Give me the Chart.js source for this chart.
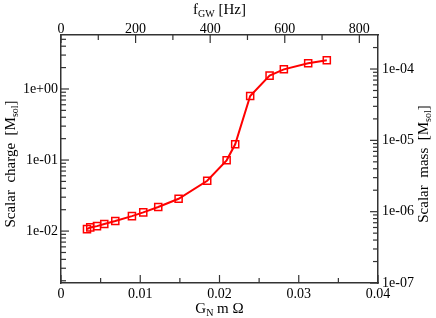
<!DOCTYPE html>
<html>
<head>
<meta charset="utf-8">
<script src="https://cdn.jsdelivr.net/npm/chart.js@4"></script>
<style>
  html, body { margin: 0; padding: 0; background: #fff; }
  #wrap { width: 436px; height: 318px; }
</style>
</head>
<body>
<div id="wrap"><canvas id="chart" width="436" height="318"></canvas></div>
<script>
// G_N m Omega (bottom axis) and scalar charge in M_sol (left axis)
const gnmOmega = [0.00328, 0.00369, 0.00454, 0.00546, 0.00685, 0.00895, 0.01038, 0.01227,
  0.01484, 0.01845, 0.02090, 0.02198, 0.02387, 0.02632, 0.02812, 0.03119, 0.03354];
const scalarCharge = [0.01067, 0.01127, 0.01175, 0.01255, 0.01384, 0.01626, 0.01834, 0.0218,
  0.0285, 0.0511, 0.0991, 0.1664, 0.797, 1.54, 1.89, 2.30, 2.54];

// axis ranges
const xRange = [0, 0.04];
const freqRange = [0, 850];           // f_GW [Hz], top axis
const chargeRange = [1.86e-3, 5.75];  // left axis
const massRange = [1e-7, 3.0e-4];     // right axis

// tick values
const xMajor = [0, 0.01, 0.02, 0.03, 0.04];
const xMinor = [0.005, 0.015, 0.025, 0.035];
const freqMajor = [0, 200, 400, 600, 800];
const freqMinor = [100, 300, 500, 700];
const chargeDecades = [1e-2, 1e-1, 1];
const massDecades = [1e-7, 1e-6, 1e-5, 1e-4];

const FONT = "'Liberation Serif', 'Times New Roman', serif";
const RED = 'rgb(255, 0, 0)';
const INK = '#333';

function expLabel(v) {
  const e = Math.round(Math.log10(v));
  return '1e' + (e < 0 ? '-' : '+') + String(Math.abs(e)).padStart(2, '0');
}

function fixSize(prop, px) {
  return scale => { scale[prop] = px; };
}

function logMinors(min, max) {
  const out = [];
  for (let e = Math.floor(Math.log10(min)); e <= Math.ceil(Math.log10(max)); e++) {
    for (let k = 2; k <= 9; k++) {
      const v = k * Math.pow(10, e);
      if (v > min && v < max) out.push(v);
    }
  }
  return out;
}

// text with subscripts, parts = [[text, isSub], ...]
function drawRich(ctx, parts, x, y, angle) {
  const big = '15px ' + FONT, small = '10px ' + FONT;
  let w = 0;
  parts.forEach(p => { ctx.font = p[1] ? small : big; w += ctx.measureText(p[0]).width; });
  ctx.save();
  ctx.translate(x, y);
  ctx.rotate(angle || 0);
  ctx.fillStyle = '#000';
  ctx.textBaseline = 'alphabetic';
  ctx.textAlign = 'left';
  let cx = -w / 2;
  parts.forEach(p => {
    ctx.font = p[1] ? small : big;
    ctx.fillText(p[0], cx, p[1] ? 8 : 5);
    cx += ctx.measureText(p[0]).width;
  });
  ctx.restore();
}

// inward tick marks (major + minor) and the axis titles
const frame = {
  id: 'frame',
  afterDraw(chart) {
    const ctx = chart.ctx;
    const a = chart.chartArea;
    const s = chart.scales;
    ctx.save();
    ctx.strokeStyle = INK;
    ctx.lineWidth = 1.2;
    const hTicks = (scale, vals, yEdge, dir, len) => vals.forEach(v => {
      const px = scale.getPixelForValue(v);
      ctx.beginPath(); ctx.moveTo(px, yEdge); ctx.lineTo(px, yEdge + dir * len); ctx.stroke();
    });
    const vTicks = (scale, vals, xEdge, dir, len) => vals.forEach(v => {
      const py = scale.getPixelForValue(v);
      ctx.beginPath(); ctx.moveTo(xEdge, py); ctx.lineTo(xEdge + dir * len, py); ctx.stroke();
    });
    hTicks(s.x, xMajor, a.bottom, -1, 8);
    hTicks(s.x, xMinor, a.bottom, -1, 5);
    hTicks(s.x2, freqMajor, a.top, 1, 8);
    hTicks(s.x2, freqMinor, a.top, 1, 5);
    vTicks(s.y, chargeDecades, a.left, 1, 8);
    vTicks(s.y, logMinors(chargeRange[0], chargeRange[1]), a.left, 1, 5);
    vTicks(s.y2, massDecades, a.right, -1, 8);
    vTicks(s.y2, logMinors(massRange[0], massRange[1]), a.right, -1, 5);
    ctx.restore();

    const cx = (a.left + a.right) / 2;
    const cy = (a.top + a.bottom) / 2;
    drawRich(ctx, [['G', false], ['N', true], [' m \u03A9', false]], cx, 308);
    drawRich(ctx, [['f', false], ['GW', true], [' [Hz]', false]], cx, 9);
    drawRich(ctx, [['Scalar  charge  [M', false], ['sol', true], [']', false]], 10, cy + 5, -Math.PI / 2);
    drawRich(ctx, [['Scalar  mass  [M', false], ['sol', true], [']', false]], 423, cy + 5, -Math.PI / 2);
  }
};

const tickFont = { family: FONT, size: 14 };
const axisBorder = { display: true, color: INK, width: 1.5 };
const noGrid = { display: true, drawOnChartArea: false, drawTicks: false };

new Chart(document.getElementById('chart'), {
  type: 'line',
  plugins: [frame],
  data: {
    datasets: [{
      data: gnmOmega.map((x, i) => ({ x: x, y: scalarCharge[i] })),
      xAxisID: 'x',
      yAxisID: 'y',
      borderColor: RED,
      borderWidth: 2,
      backgroundColor: 'rgba(0,0,0,0)',
      pointStyle: 'rect',
      pointRadius: 5,
      pointBorderWidth: 1.5,
      pointBorderColor: RED,
      pointBackgroundColor: 'rgba(0,0,0,0)',
      tension: 0,
      fill: false
    }]
  },
  options: {
    responsive: false,
    animation: false,
    layout: { padding: 0 },
    plugins: { legend: { display: false }, tooltip: { enabled: false } },
    scales: {
      x: {
        type: 'linear', position: 'bottom',
        min: xRange[0], max: xRange[1],
        afterBuildTicks: sc => { sc.ticks = xMajor.map(v => ({ value: v })); },
        afterFit: fixSize('height', 35),
        ticks: { font: tickFont, color: '#000', padding: 3, maxRotation: 0,
          callback: v => v === 0 ? '0' : String(+v.toFixed(2)) },
        grid: noGrid, border: axisBorder
      },
      x2: {
        type: 'linear', position: 'top',
        min: freqRange[0], max: freqRange[1],
        afterBuildTicks: sc => { sc.ticks = freqMajor.map(v => ({ value: v })); },
        afterFit: fixSize('height', 35),
        ticks: { font: tickFont, color: '#000', padding: -3, maxRotation: 0 },
        grid: noGrid, border: axisBorder
      },
      y: {
        type: 'logarithmic', position: 'left',
        min: chargeRange[0], max: chargeRange[1],
        afterBuildTicks: sc => { sc.ticks = chargeDecades.map(v => ({ value: v })); },
        afterFit: fixSize('width', 61),
        ticks: { font: tickFont, color: '#000', padding: 3, callback: v => expLabel(v) },
        grid: noGrid, border: axisBorder
      },
      y2: {
        type: 'logarithmic', position: 'right',
        min: massRange[0], max: massRange[1],
        afterBuildTicks: sc => { sc.ticks = massDecades.map(v => ({ value: v })); },
        afterFit: fixSize('width', 58),
        ticks: { font: tickFont, color: '#000', padding: 4, callback: v => expLabel(v) },
        grid: noGrid, border: axisBorder
      }
    }
  }
});
</script>
</body>
</html>
